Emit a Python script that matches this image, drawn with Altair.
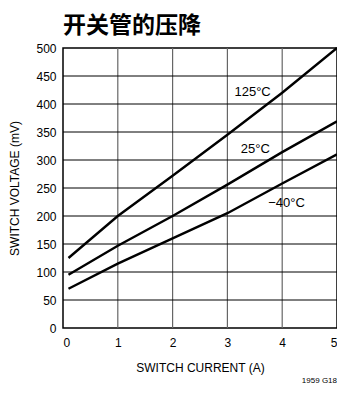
import altair as alt
import pandas as pd

current = [0.1, 1, 2, 3, 4, 5]
v125 = [125, 200, 272, 345, 420, 500]
v25 = [95, 147, 200, 256, 314, 369]
vm40 = [70, 115, 160, 205, 258, 310]

label_text = ["125°C", "25°C", "−40°C"]
label_x = [3.46, 3.51, 4.08]
label_y = [421, 320, 223]

x_ticks = [0, 1, 2, 3, 4, 5]
y_ticks = [0, 50, 100, 150, 200, 250, 300, 350, 400, 450, 500]

rows = []
for name, vals in [("125", v125), ("25", v25), ("-40", vm40)]:
    for c, v in zip(current, vals):
        rows.append({"series": name, "I": c, "V": v})
df = pd.DataFrame(rows)
labels = pd.DataFrame({"t": label_text, "I": label_x, "V": label_y})
note = pd.DataFrame({"t": ["1959 G18"], "I": [5.0], "V": [-102]})

FONT = "Liberation Sans"

xs = alt.Scale(domain=[0, 5], nice=False)
ys = alt.Scale(domain=[0, 500], nice=False)

x_axis = alt.Axis(
    title="SWITCH CURRENT (A)",
    values=x_ticks,
    format="d",
    grid=False,
    ticks=False,
    labelPadding=9,
    titlePadding=14,
    labelOverlap=False,
)
y_axis = alt.Axis(
    title="SWITCH VOLTAGE (mV)",
    values=y_ticks,
    grid=False,
    ticks=False,
    labelPadding=7,
    titlePadding=14,
    labelOverlap=False,
)

vgrid = alt.Chart(pd.DataFrame({"I": x_ticks[1:-1]})).mark_rule(color="#666666", strokeWidth=1.2).encode(
    x=alt.X("I:Q", scale=xs, axis=x_axis)
)
hgrid = alt.Chart(pd.DataFrame({"V": y_ticks[1:-1]})).mark_rule(color="#000000", strokeWidth=1).encode(
    y=alt.Y("V:Q", scale=ys, axis=y_axis)
)

lines = alt.Chart(df).mark_line(color="black", strokeWidth=2.4).encode(
    x=alt.X("I:Q", scale=xs, axis=x_axis),
    y=alt.Y("V:Q", scale=ys, axis=y_axis),
    detail="series:N",
)

txt = alt.Chart(labels).mark_text(font=FONT, fontSize=13, color="black").encode(
    x=alt.X("I:Q", scale=xs, axis=x_axis), y=alt.Y("V:Q", scale=ys, axis=y_axis), text="t:N"
)
note_txt = alt.Chart(note).mark_text(
    font=FONT, fontSize=8, color="black", align="right", baseline="bottom"
).encode(x=alt.X("I:Q", scale=xs, axis=x_axis), y=alt.Y("V:Q", scale=ys, axis=y_axis), text="t:N")

chart = (
    alt.layer(vgrid, hgrid, lines, txt, note_txt)
    .properties(
        width=274,
        height=280,
        autosize=alt.AutoSizeParams(type="none"),
        padding={"left": 55, "top": 40, "right": 0, "bottom": 58},
        title=alt.TitleParams(
            "开关管的压降",
            anchor="start",
            font="Noto Sans CJK SC",
            fontSize=23,
            fontWeight="bold",
            color="black",
            offset=4,
            frame="group",
        ),
    )
    .configure_view(stroke="black", strokeWidth=1.5)
    .configure_axis(
        labelFont=FONT,
        titleFont=FONT,
        labelFontSize=12,
        titleFontSize=12,
        titleFontWeight="normal",
        labelColor="black",
        titleColor="black",
        domain=False,
    )
)

chart.save("out.html", embed_options={"renderer": "svg", "actions": False})
